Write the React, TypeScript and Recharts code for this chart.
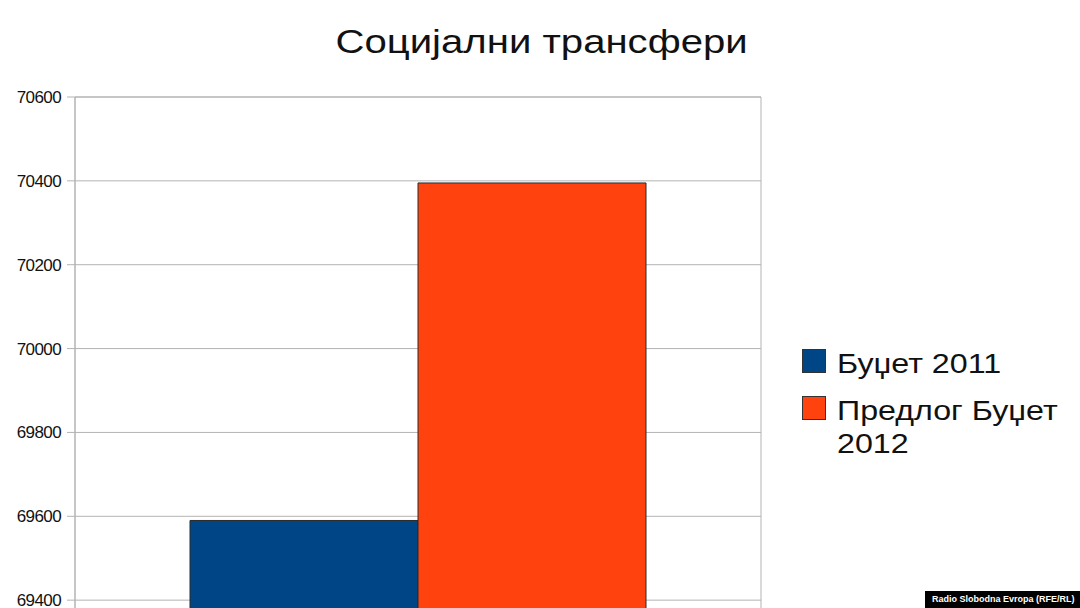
import React from 'react';
import { BarChart, Bar, XAxis, YAxis, CartesianGrid, Legend, ReferenceArea } from 'recharts';

const title = 'Социјални трансфери';
const categories = ['Социјални трансфери'];
const budget2011 = [69590];
const proposal2012 = [70395];
const seriesNames = ['Буџет 2011', 'Предлог Буџет 2012'];
const seriesColors = ['#004586', '#ff420e'];
const yTicks = [69200, 69400, 69600, 69800, 70000, 70200, 70400, 70600];
const watermark = 'Radio Slobodna Evropa (RFE/RL)';

const data = categories.map((c, i) => ({ name: c, b2011: budget2011[i], p2012: proposal2012[i] }));

const FONT = '"Liberation Sans", Arial, sans-serif';

const renderLegend = (props: any) => {
  const payload = props.payload || [];
  return (
    <div style={{ fontFamily: FONT }}>
      {payload.map((entry: any, i: number) => (
        <div key={i} style={{ display: 'flex', alignItems: 'flex-start', marginBottom: 14 }}>
          <div
            style={{
              width: 22,
              height: 22,
              marginTop: 2,
              background: entry.color,
              border: '1px solid #333',
              flexShrink: 0,
            }}
          />
          <div
            style={{
              marginLeft: 11,
              fontSize: 28,
              lineHeight: '33px',
              color: '#111',
              width: 200,
              transform: 'scaleX(1.15)',
              transformOrigin: 'left center',
            }}
          >
            {entry.value}
          </div>
        </div>
      ))}
    </div>
  );
};

export default function App() {
  return (
    <div
      style={{
        position: 'absolute',
        left: 0,
        top: 0,
        width: 1080,
        height: 608,
        overflow: 'hidden',
        background: '#fff',
        fontFamily: FONT,
      }}
    >
      <div
        style={{
          position: 'absolute',
          left: 0,
          top: 24,
          width: 1083,
          textAlign: 'center',
          fontSize: 34,
          lineHeight: '34px',
          color: '#111',
          transform: 'scaleX(1.18)',
          transformOrigin: '541px 0',
        }}
      >
        {title}
      </div>
      <BarChart
        width={1080}
        height={700}
        data={data}
        margin={{ top: 97, right: 319, bottom: 16, left: 0 }}
        barCategoryGap={115}
        barGap={0}
      >
        <CartesianGrid vertical={false} stroke="#b3b3b3" />
        <XAxis dataKey="name" hide />
        <YAxis
          width={75}
          domain={[69200, 70600]}
          ticks={yTicks}
          interval={0}
          axisLine={{ stroke: '#b3b3b3' }}
          tickLine={{ stroke: '#b3b3b3' }}
          tickSize={8}
          tickMargin={6}
          tick={{ fill: '#111', fontSize: 17, fontFamily: FONT, letterSpacing: -0.6 }}
        />
        <ReferenceArea y1={69200} y2={70600} fill="none" stroke="#b3b3b3" ifOverflow="visible" />
        <Bar dataKey="b2011" name={seriesNames[0]} fill={seriesColors[0]} stroke="#2a2a2a" strokeWidth={1} isAnimationActive={false} />
        <Bar dataKey="p2012" name={seriesNames[1]} fill={seriesColors[1]} stroke="#2a2a2a" strokeWidth={1} isAnimationActive={false} />
        <Legend
          content={renderLegend}
          layout="horizontal"
          align="center"
          verticalAlign="middle"
          wrapperStyle={{ left: 802, top: 347, width: 270 }}
        />
      </BarChart>
      <div
        style={{
          position: 'absolute',
          left: 925,
          top: 591,
          width: 155,
          height: 17,
          background: '#000',
          color: '#fff',
          fontWeight: 'bold',
          fontSize: 9,
          lineHeight: '17px',
          paddingLeft: 7,
          boxSizing: 'border-box',
          fontFamily: 'Arial, "Liberation Sans", sans-serif',
          whiteSpace: 'nowrap',
        }}
      >
        {watermark}
      </div>
    </div>
  );
}
